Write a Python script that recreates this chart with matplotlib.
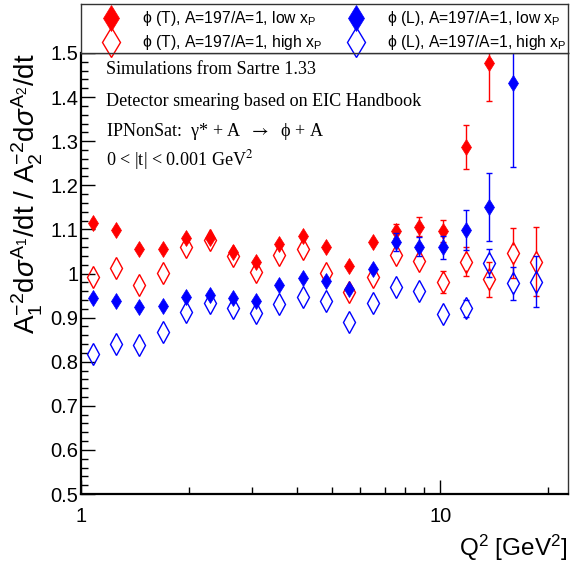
import matplotlib
matplotlib.use("Agg")
import matplotlib.pyplot as plt
import matplotlib.ticker as ticker
import numpy as np

# font settings
sans = ['Liberation Sans', 'DejaVu Sans']
serif = ['Liberation Serif', 'DejaVu Serif']
plt.rcParams['font.family'] = sans
plt.rcParams['mathtext.fontset'] = 'custom'
plt.rcParams['mathtext.rm'] = 'Liberation Sans'
plt.rcParams['mathtext.it'] = 'Liberation Sans:italic'
plt.rcParams['xtick.direction'] = 'in'
plt.rcParams['ytick.direction'] = 'in'

# data (Q2 bin centres, ratio values and errors)
nan = np.nan
q2 = [1.08, 1.25, 1.45, 1.69, 1.96, 2.28, 2.65, 3.07, 3.57, 4.14,
      4.82, 5.59, 6.49, 7.54, 8.76, 10.17, 11.81, 13.72, 15.94, 18.51]

t_low = [1.115, 1.099, 1.056, 1.055, 1.081, 1.080, 1.049, 1.025, 1.068, 1.085,
         1.061, 1.017, 1.071, 1.097, 1.106, 1.097, 1.286, 1.478, nan, nan]
t_low_err = [0.008, 0.008, 0.008, 0.008, 0.009, 0.009, 0.010, 0.010, 0.011, 0.012,
             0.012, 0.013, 0.015, 0.016, 0.021, 0.025, 0.050, 0.087, nan, nan]

t_high = [0.991, 1.012, 0.973, 1.002, 1.061, 1.077, 1.040, 1.004, 1.042, 1.056,
          1.002, 0.959, 0.991, 1.042, 1.029, 0.981, 1.027, 0.987, 1.046, 1.027]
t_high_err = [0.006, 0.006, 0.006, 0.007, 0.007, 0.008, 0.008, 0.009, 0.009, 0.010,
              0.011, 0.012, 0.013, 0.015, 0.018, 0.025, 0.032, 0.040, 0.057, 0.078]

l_low = [0.944, 0.938, 0.925, 0.926, 0.947, 0.951, 0.944, 0.938, 0.974, 0.989,
         0.984, 0.964, 1.011, 1.072, 1.061, 1.059, 1.099, 1.150, 1.431, nan]
l_low_err = [0.008, 0.008, 0.008, 0.008, 0.009, 0.009, 0.010, 0.010, 0.011, 0.012,
             0.013, 0.014, 0.015, 0.020, 0.022, 0.027, 0.045, 0.077, 0.190, nan]

l_high = [0.817, 0.840, 0.838, 0.868, 0.913, 0.932, 0.921, 0.910, 0.931, 0.946,
          0.938, 0.891, 0.934, 0.970, 0.961, 0.908, 0.921, 1.024, 0.978, 0.981]
l_high_err = [0.005, 0.005, 0.005, 0.006, 0.006, 0.007, 0.007, 0.008, 0.008, 0.009,
              0.009, 0.010, 0.011, 0.012, 0.013, 0.012, 0.020, 0.031, 0.037, 0.058]

labels = [r'ϕ (T), A=197/A=1, low x$_{\mathrm{P}}$',
          r'ϕ (T), A=197/A=1, high x$_{\mathrm{P}}$',
          r'ϕ (L), A=197/A=1, low x$_{\mathrm{P}}$',
          r'ϕ (L), A=197/A=1, high x$_{\mathrm{P}}$']

red = '#ff0000'
blue = '#0000ff'

W, H = 577, 563
fig = plt.figure(figsize=(W / 100, H / 100), dpi=100)
ax = fig.add_axes([81 / W, 1 - 494 / H, (568 - 81) / W, (494 - 53) / H])
ax.set_xscale('log')
ax.set_xlim(1, 22.7)
ax.set_ylim(0.5, 1.5)

px_per_unit = 441.0  # axis height in pixels for 1.0 in y


def draw(y, err, color, filled):
    y = np.array(y)
    err = np.array(err)
    ms = 8.5 if filled else 11
    half = (ms * 1.389 / 2 + 1) / px_per_unit  # marker half height in data units
    # ROOT style: error bars drawn only outside the marker
    for xi, yi, ei in zip(q2, y, err):
        if np.isnan(yi) or ei <= half:
            continue
        ax.vlines(xi, yi + half, yi + ei, color=color, lw=1)
        ax.vlines(xi, yi - ei, yi - half, color=color, lw=1)
        ax.plot([xi, xi], [yi - ei, yi + ei], ls='none', marker='_', ms=4, mew=1, color=color)
    if filled:
        ax.plot(q2, y, ls='none', marker='d', ms=ms, mfc=color, mec=color, mew=0.5)
    else:
        ax.plot(q2, y, ls='none', marker='d', ms=ms, mfc='none', mec=color, mew=1.0)


draw(t_high, t_high_err, red, False)
draw(l_high, l_high_err, blue, False)
draw(t_low, t_low_err, red, True)
draw(l_low, l_low_err, blue, True)

ax.xaxis.set_major_locator(ticker.FixedLocator([1, 10]))
ax.xaxis.set_major_formatter(ticker.FixedFormatter(['1', '10']))
ax.xaxis.set_minor_locator(ticker.FixedLocator([2, 3, 4, 5, 6, 7, 8, 9, 20]))
ax.xaxis.set_minor_formatter(ticker.NullFormatter())
ax.yaxis.set_major_locator(ticker.MultipleLocator(0.1))
ax.yaxis.set_minor_locator(ticker.MultipleLocator(0.02))
ax.yaxis.set_major_formatter(ticker.FuncFormatter(lambda v, p: '%g' % round(v, 2)))

ax.tick_params(axis='both', which='major', length=10, width=1, labelsize=14.5)
ax.tick_params(axis='both', which='minor', length=5, width=1)
ax.tick_params(axis='y', pad=2)
ax.tick_params(axis='x', pad=9)
ax.tick_params(top=False, right=False, which='both')

for s in ['left', 'bottom']:
    ax.spines[s].set_linewidth(1.6)
for s in ['top', 'right']:
    ax.spines[s].set_linewidth(1.0)
    ax.spines[s].set_color('#333333')

ax.set_ylabel(r'A$_{1}^{-2}$d$\sigma^{\mathrm{A_1}}$/dt / A$_{2}^{-2}$d$\sigma^{\mathrm{A_2}}$/dt',
              fontsize=20, loc='top', labelpad=4)
fig.text(567 / W, 1 - 548 / H, 'Q$^{2}$ [GeV$^{2}$]', fontsize=17.5, ha='right', va='center')

# annotation text (Times)
tx = 106 / W
fs = 13.1
fig.text(tx, 1 - 70 / H, 'Simulations from Sartre 1.33', family=serif, fontsize=fs, va='center')
fig.text(tx, 1 - 101 / H, 'Detector smearing based on EIC Handbook', family=serif, fontsize=fs, va='center')
fig.text(tx, 1 - 131 / H, r'IPNonSat:  γ* + A  $\rightarrow$  ϕ + A', family=serif, fontsize=fs,
         va='center', math_fontfamily='stix')
fig.text(tx, 1 - 160 / H, r'0 < |t| < 0.001 GeV$^{2}$', family=serif, fontsize=fs, va='center',
         math_fontfamily='stix')

# legend box above the frame
lg = fig.add_axes([81 / W, 1 - 53 / H, (568 - 81) / W, (53 - 4) / H])
lg.set_xlim(0, 487)
lg.set_ylim(49, 0)
lg.set_xticks([])
lg.set_yticks([])
for s in lg.spines.values():
    s.set_linewidth(1.0)
    s.set_color('#333333')
entries = [(30, 13.5, red, True, labels[0]), (30, 38.5, red, False, labels[1]),
           (275, 13.5, blue, True, labels[2]), (275, 38.5, blue, False, labels[3])]
for mx, my, c, filled, lab in entries:
    if filled:
        lg.plot([mx], [my], marker='d', ms=13, mfc=c, mec=c, mew=0.5, clip_on=False)
    else:
        lg.plot([mx], [my], marker='d', ms=15, mfc='none', mec=c, mew=1.0, clip_on=False)
    lg.text(mx + 31, my + 0.5, lab, fontsize=11.3, va='center', ha='left')

fig.savefig('out.png', dpi=100)
